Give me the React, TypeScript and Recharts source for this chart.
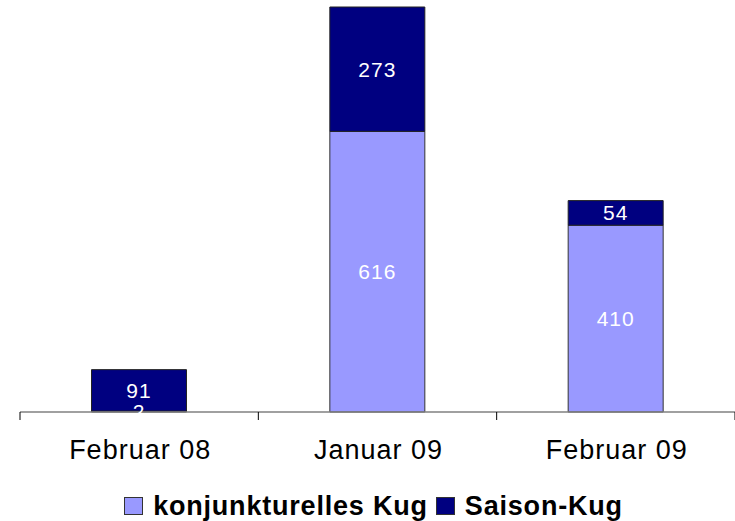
import { BarChart, Bar, XAxis, YAxis, Legend, LabelList } from 'recharts'

const categories = ['Februar 08', 'Januar 09', 'Februar 09']
const konjunkturell = [2, 616, 410]
const saison = [91, 273, 54]

const SERIES = [
  { key: 'konj', name: 'konjunkturelles Kug', color: '#9999FF' },
  { key: 'saison', name: 'Saison-Kug', color: '#000080' },
]

const FONT = '"Liberation Sans", Arial, sans-serif'

const data = categories.map((cat, i) => ({
  cat,
  konj: konjunkturell[i],
  saison: saison[i],
}))

// ticks sit on the band borders, labels in the middle
function CatTick(props: any) {
  const { x, y, payload, index, visibleTicksCount } = props
  const half = payload?.offset ?? 0
  return (
    <g>
      <line x1={x - half} x2={x - half} y1={y} y2={y + 8} stroke="#000" />
      {index === visibleTicksCount - 1 && (
        <line x1={x + half} x2={x + half} y1={y} y2={y + 8} stroke="#000" />
      )}
      <text
        x={x + 1}
        y={y + 47}
        textAnchor="middle"
        fontSize={27}
        letterSpacing={1}
        fontFamily={FONT}
        fill="#000"
      >
        {payload.value}
      </text>
    </g>
  )
}

function LegendContent() {
  return (
    <div
      style={{
        display: 'flex',
        justifyContent: 'center',
        alignItems: 'center',
        fontFamily: FONT,
        fontWeight: 'bold',
        fontSize: 27,
        letterSpacing: 0.8,
        lineHeight: '30px',
        color: '#000',
      }}
    >
      {SERIES.map((s) => (
        <div key={s.key} style={{ display: 'flex', alignItems: 'center', marginRight: 8 }}>
          <span
            style={{
              display: 'inline-block',
              width: 17,
              height: 16,
              background: s.color,
              border: '1px solid #333',
              marginRight: 10,
            }}
          />
          <span>{s.name}</span>
        </div>
      ))}
    </div>
  )
}

export default function App() {
  return (
    <div style={{ position: 'absolute', left: 0, top: 0, width: 735, height: 521, overflow: 'hidden', background: '#fff' }}>
      <BarChart
        width={735}
        height={521}
        data={data}
        margin={{ top: 7, right: 0, bottom: 0, left: 20 }}
        barCategoryGap="30%"
        style={{ fontFamily: FONT }}
      >
        <XAxis
          dataKey="cat"
          height={109}
          tickLine={false}
          tickSize={0}
          tickMargin={0}
          axisLine={{ stroke: '#808080', strokeWidth: 1.5 }}
          tick={<CatTick />}
          interval={0}
        />
        <YAxis hide domain={[0, 889]} />
        <Legend
          verticalAlign="middle"
          align="center"
          layout="horizontal"
          content={<LegendContent />}
          wrapperStyle={{ top: 491, left: 20, width: 715 }}
        />
        <Bar dataKey="konj" stackId="a" fill="#9999FF" stroke="#333" strokeWidth={1} isAnimationActive={false}>
          <LabelList dataKey="konj" position="center" fill="#fff" fontSize={21} letterSpacing={1} fontFamily={FONT} />
        </Bar>
        <Bar dataKey="saison" stackId="a" fill="#000080" stroke="#222" strokeWidth={1} isAnimationActive={false}>
          <LabelList dataKey="saison" position="center" fill="#fff" fontSize={21} letterSpacing={1} fontFamily={FONT} />
        </Bar>
      </BarChart>
    </div>
  )
}
